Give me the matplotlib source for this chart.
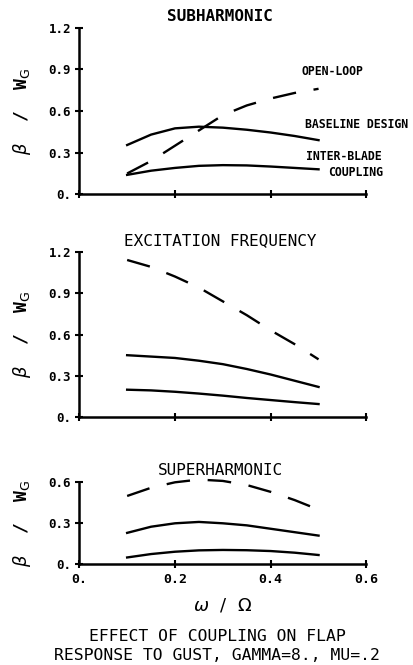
import matplotlib
matplotlib.use("Agg")
import matplotlib.pyplot as plt

freq = [0.10, 0.15, 0.20, 0.25, 0.30, 0.35, 0.40, 0.45, 0.50]

sub_open = [0.15, 0.24, 0.35, 0.46, 0.57, 0.64, 0.69, 0.73, 0.76]
sub_base = [0.355, 0.43, 0.475, 0.487, 0.48, 0.465, 0.445, 0.42, 0.39]
sub_coup = [0.14, 0.17, 0.19, 0.205, 0.21, 0.208, 0.20, 0.19, 0.18]

exc_open = [1.14, 1.09, 1.02, 0.94, 0.84, 0.74, 0.63, 0.53, 0.42]
exc_base = [0.45, 0.44, 0.43, 0.41, 0.385, 0.35, 0.31, 0.265, 0.22]
exc_coup = [0.20, 0.195, 0.185, 0.172, 0.157, 0.14, 0.125, 0.11, 0.096]

sup_open = [0.50, 0.56, 0.60, 0.62, 0.61, 0.58, 0.53, 0.47, 0.40]
sup_base = [0.23, 0.275, 0.30, 0.31, 0.30, 0.285, 0.26, 0.235, 0.21]
sup_coup = [0.05, 0.075, 0.092, 0.102, 0.105, 0.103, 0.097, 0.085, 0.068]

x_ticks = [0.0, 0.2, 0.4, 0.6]
x_labels = ["0.", "0.2", "0.4", "0.6"]
y_ticks_big = [0.0, 0.3, 0.6, 0.9, 1.2]
y_labels_big = ["0.", "0.3", "0.6", "0.9", "1.2"]
y_ticks_small = [0.0, 0.3, 0.6]
y_labels_small = ["0.", "0.3", "0.6"]

titles = ["SUBHARMONIC", "EXCITATION FREQUENCY", "SUPERHARMONIC"]
curve_labels = ["OPEN-LOOP", "BASELINE DESIGN", "INTER-BLADE", "COUPLING"]

MONO = "DejaVu Sans Mono"
W, H = 413, 665
fig = plt.figure(figsize=(W / 100, H / 100), dpi=100)

def ax_rect(left_px, right_px, top_px, bottom_px):
    return [left_px / W, 1 - bottom_px / H, (right_px - left_px) / W, (bottom_px - top_px) / H]

axes = [
    fig.add_axes(ax_rect(79.3, 366.4, 27.7, 194.3)),
    fig.add_axes(ax_rect(79.3, 366.4, 251.7, 417.3)),
    fig.add_axes(ax_rect(79.3, 366.4, 482.3, 564.3)),
]
data = [
    (sub_open, sub_base, sub_coup, 1.2, y_ticks_big, y_labels_big),
    (exc_open, exc_base, exc_coup, 1.2, y_ticks_big, y_labels_big),
    (sup_open, sup_base, sup_coup, 0.6, y_ticks_small, y_labels_small),
]

for i, (ax, (op, bs, cp, ymax, yt, yl)) in enumerate(zip(axes, data)):
    ax.plot(freq, op, color="black", lw=1.7, linestyle=(0, (10, 7.5)), clip_on=False)
    ax.plot(freq, bs, color="black", lw=1.7, clip_on=False)
    ax.plot(freq, cp, color="black", lw=1.7, clip_on=False)
    ax.set_xlim(0, 0.6)
    ax.set_ylim(0, ymax)
    for s in ["top", "right"]:
        ax.spines[s].set_visible(False)
    for s in ["left", "bottom"]:
        ax.spines[s].set_linewidth(1.8)
    ax.set_xticks(x_ticks)
    ax.set_yticks(yt)
    ax.set_yticklabels(yl, family=MONO, fontweight="bold", fontsize=9)
    if i == 2:
        ax.set_xticklabels(x_labels, family=MONO, fontweight="bold", fontsize=9.5)
    else:
        ax.set_xticklabels([])
    ax.tick_params(direction="inout", length=6, width=1.5, pad=3)
    ax.set_facecolor("none")
    ax.set_ylabel(r"$\beta$  /  W$_\mathrm{G}$", fontsize=13, family=MONO,
                  fontweight="bold", labelpad=4)
    ax.yaxis.set_label_coords(-0.16, 0.5)
    ax.set_title(titles[i], family=MONO, fontsize=11.5,
                 fontweight="bold" if i == 0 else "normal", pad=5, x=0.49)

# annotations in top panel
top = axes[0]
kw = dict(family=MONO, fontweight="bold", fontsize=8.3, ha="left", va="center", clip_on=False)
top.text(0.465, 0.888, curve_labels[0], **kw)
top.text(0.472, 0.506, curve_labels[1], **kw)
top.text(0.474, 0.27, curve_labels[2], **kw)
top.text(0.52, 0.16, curve_labels[3], **kw)

axes[2].set_xlabel(r"$\omega$  /  $\Omega$", fontsize=13, labelpad=8)

fig.text(217 / W, 1 - 636.7 / H, "EFFECT OF COUPLING ON FLAP", family=MONO,
         fontsize=11.8, ha="center", va="center")
fig.text(217 / W, 1 - 655 / H, "RESPONSE TO GUST, GAMMA=8., MU=.2", family=MONO,
         fontsize=11.8, ha="center", va="center")

fig.savefig("out.png", dpi=100, facecolor="white")
